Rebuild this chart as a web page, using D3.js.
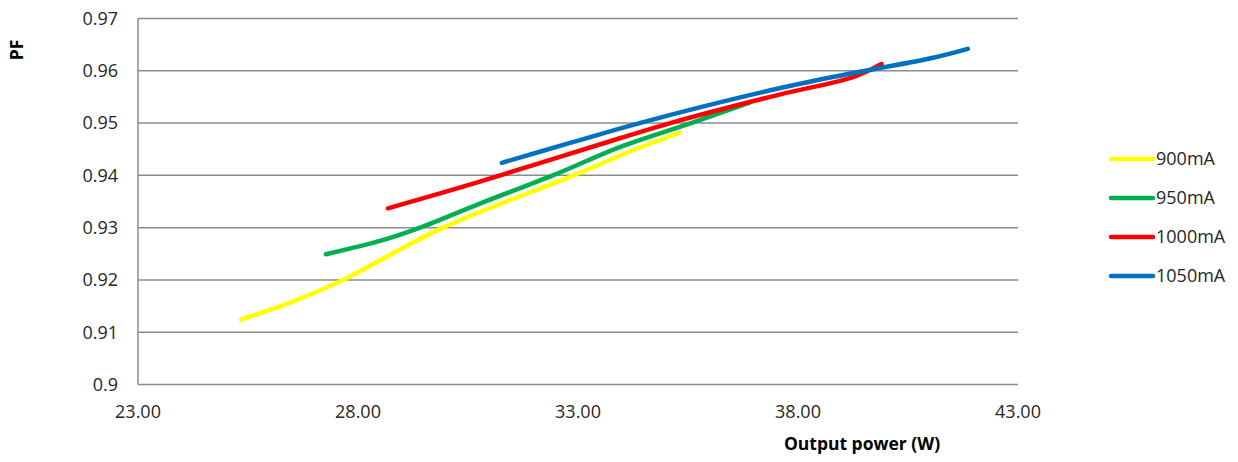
<!DOCTYPE html>
<html>
<head>
<meta charset="utf-8">
<script src="https://cdn.jsdelivr.net/npm/d3@7"></script>
<style>
  body { margin: 0; background: #fff; }
  text { font-family: "Open Sans", sans-serif; fill: #262626; }
</style>
</head>
<body>
<div id="chart"></div>
<script>
const seriesNames = ["900mA", "950mA", "1000mA", "1050mA"];
const seriesColors = ["#FFFF00", "#00B050", "#FF0000", "#0070C0"];

const power900 = [25.34, 26.5, 27.66, 29.93, 32.9, 34.25, 35.3];
const pf900 = [0.9124, 0.9158, 0.9200, 0.9300, 0.9400, 0.9448, 0.9481];

const power950 = [27.27, 28.6, 29.41, 30.77, 32.43, 33.95, 35.57, 36.9];
const pf950 = [0.9249, 0.9277, 0.9300, 0.9346, 0.9400, 0.9454, 0.9500, 0.9539];

const power1000 = [28.68, 30.77, 33.95, 35.1, 37.6, 39.25, 39.9];
const pf1000 = [0.9337, 0.9388, 0.9471, 0.9500, 0.9555, 0.9588, 0.9613];

const power1050 = [31.27, 32.82, 34.4, 37.6, 39.4, 41.07, 41.86];
const pf1050 = [0.9424, 0.9462, 0.9500, 0.9567, 0.9598, 0.9625, 0.9642];

const xTicks = [23, 28, 33, 38, 43];
const yTicks = [0.9, 0.91, 0.92, 0.93, 0.94, 0.95, 0.96, 0.97];

const allPower = [power900, power950, power1000, power1050];
const allPf = [pf900, pf950, pf1000, pf1050];

const W = 1238, H = 462;
const margin = {top: 18.5, right: 220, bottom: 77.5, left: 138};

const svg = d3.select("#chart").append("svg")
    .attr("width", W)
    .attr("height", H);

const x = d3.scaleLinear().domain([23, 43]).range([margin.left, W - margin.right]);
const y = d3.scaleLinear().domain([0.9, 0.97]).range([H - margin.bottom, margin.top]);

// horizontal grid
svg.append("g").selectAll("line")
    .data(yTicks)
    .enter().append("line")
    .attr("x1", x(23))
    .attr("x2", x(43))
    .attr("y1", d => y(d))
    .attr("y2", d => y(d))
    .style("stroke", "#8c8c8c")
    .style("stroke-width", 1.5);

// left axis line
svg.append("line")
    .attr("x1", x(23)).attr("x2", x(23))
    .attr("y1", y(0.97)).attr("y2", y(0.9))
    .style("stroke", "#8c8c8c")
    .style("stroke-width", 1.5);

// y tick labels
svg.append("g").selectAll("text")
    .data(yTicks)
    .enter().append("text")
    .attr("x", 118)
    .attr("y", d => y(d))
    .attr("dy", "0.35em")
    .attr("text-anchor", "end")
    .style("font-size", "18px")
    .text(d => d === 0.9 ? "0.9" : d.toFixed(2));

// x tick labels
svg.append("g").selectAll("text")
    .data(xTicks)
    .enter().append("text")
    .attr("x", d => x(d))
    .attr("y", y(0.9) + 27)
    .attr("dy", "0.35em")
    .attr("text-anchor", "middle")
    .style("font-size", "18px")
    .text(d => d.toFixed(2));

// axis titles
svg.append("text")
    .attr("transform", "translate(23,50) rotate(-90)")
    .attr("text-anchor", "middle")
    .style("font-size", "17.5px")
    .style("font-weight", "bold")
    .style("fill", "#000")
    .text("PF");

svg.append("text")
    .attr("x", 862)
    .attr("y", 450)
    .attr("text-anchor", "middle")
    .style("font-size", "17.5px")
    .style("font-weight", "bold")
    .style("fill", "#000")
    .text("Output power (W)");

const line = d3.line()
    .x(d => x(d[0]))
    .y(d => y(d[1]))
    .curve(d3.curveCatmullRom.alpha(0.5));

seriesNames.forEach((name, i) => {
    const pts = allPower[i].map((p, j) => [p, allPf[i][j]]);
    svg.append("path")
        .datum(pts)
        .attr("d", line)
        .style("fill", "none")
        .style("stroke", seriesColors[i])
        .style("stroke-width", 4.5)
        .style("stroke-linecap", "round");
});

// legend
const legend = svg.append("g").selectAll("g")
    .data(seriesNames)
    .enter().append("g")
    .attr("transform", (d, i) => `translate(1111,${159 + i * 39})`);

legend.append("line")
    .attr("x1", 0).attr("x2", 42)
    .attr("y1", 0).attr("y2", 0)
    .style("stroke", (d, i) => seriesColors[i])
    .style("stroke-width", 4.5)
    .style("stroke-linecap", "round");

legend.append("text")
    .attr("x", 45)
    .attr("y", 0)
    .attr("dy", "0.35em")
    .style("font-size", "18px")
    .text(d => d);
</script>
</body>
</html>
